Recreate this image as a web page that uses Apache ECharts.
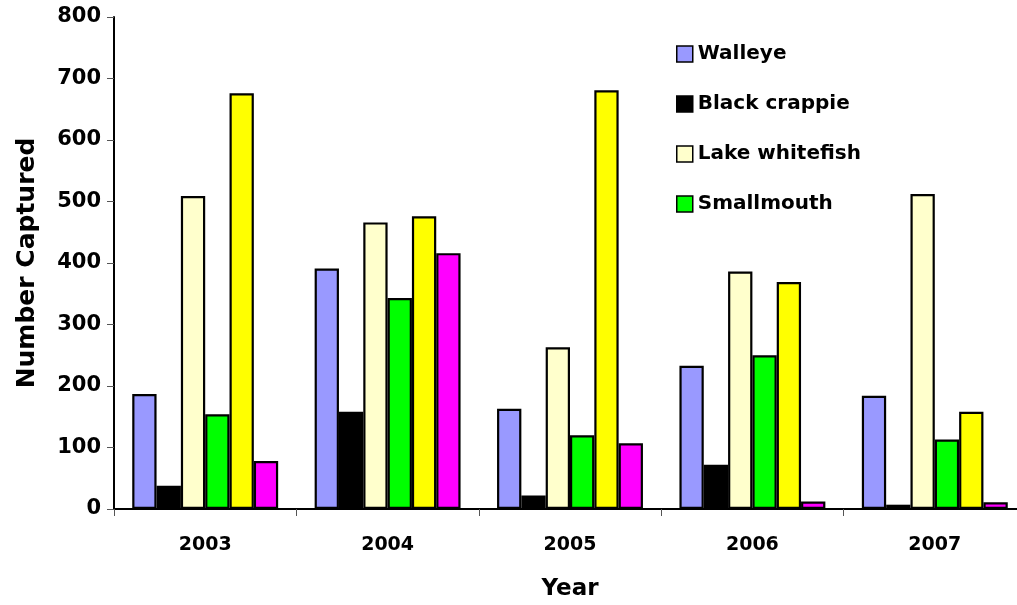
<!DOCTYPE html>
<html>
<head>
<meta charset="utf-8">
<script src="https://cdn.jsdelivr.net/npm/echarts@6/dist/echarts.min.js"></script>
<style>
  html, body { margin: 0; padding: 0; background: #fff; }
  #chart { width: 1017px; height: 605px; }
</style>
</head>
<body>
<div id="chart"></div>
<script>
// data
const years = ["2003", "2004", "2005", "2006", "2007"];
const walleye = [187, 391, 163, 233, 184];
const blackCrappie = [38, 158, 22, 72, 7];
const lakeWhitefish = [509, 466, 263, 386, 512];
const smallmouthBass = [154, 343, 120, 250, 113];
const yellowSeries = [676, 476, 681, 369, 158];
const magentaSeries = [78, 416, 107, 12, 11];
const yTicks = [0, 100, 200, 300, 400, 500, 600, 700, 800];

const font = "'DejaVu Sans', sans-serif";
const chart = echarts.init(document.getElementById("chart"));

function bar(name, data, color) {
  return {
    name: name,
    type: "bar",
    data: data,
    barGap: "0%",
    barCategoryGap: "20%",
    itemStyle: { color: color, borderColor: "#000", borderWidth: 2.2 },
    emphasis: { disabled: true },
    animation: false
  };
}

const option = {
  backgroundColor: "#fff",
  grid: { left: 114, top: 17, right: -9, bottom: 96, containLabel: false, outerBoundsMode: "none" },
  legend: {
    data: ["Walleye", "Black crappie", "Lake whitefish", "Smallmouth bass"],
    orient: "vertical",
    left: 671,
    top: 39,
    itemWidth: 16,
    itemHeight: 16,
    itemGap: 30,
    icon: "rect",
    itemStyle: { borderColor: "#000", borderWidth: 1.5 },
    formatter: function (name) { return name === "Smallmouth bass" ? "Smallmouth" : name; },
    textStyle: { fontFamily: font, fontWeight: "bold", fontSize: 20, color: "#000", lineHeight: 16 }
  },
  xAxis: {
    type: "category",
    data: years,
    name: "Year",
    nameLocation: "middle",
    nameGap: 69,
    nameTextStyle: { fontFamily: font, fontWeight: "bold", fontSize: 23, color: "#000" },
    axisLine: { lineStyle: { color: "#000", width: 2 } },
    axisTick: { show: true, length: 7, lineStyle: { color: "#555", width: 1 } },
    axisLabel: { fontFamily: font, fontWeight: "bold", fontSize: 19, color: "#000", margin: 27 }
  },
  yAxis: {
    type: "value",
    min: 0,
    max: 800,
    interval: 100,
    name: "Number Captured",
    nameLocation: "middle",
    nameGap: 74,
    nameTextStyle: { fontFamily: font, fontWeight: "bold", fontSize: 25, color: "#000" },
    axisLine: { show: true, lineStyle: { color: "#000", width: 2 } },
    axisTick: { show: true, length: 7, lineStyle: { color: "#555", width: 1 } },
    splitLine: { show: false },
    axisLabel: {
      fontFamily: font, fontWeight: "bold", fontSize: 21, color: "#000", margin: 13,
      formatter: function (v) { return yTicks.indexOf(v) >= 0 ? String(v) : ""; }
    }
  },
  series: [
    bar("Walleye", walleye, "#9999ff"),
    bar("Black crappie", blackCrappie, "#000000"),
    bar("Lake whitefish", lakeWhitefish, "#ffffcc"),
    bar("Smallmouth bass", smallmouthBass, "#00ff00"),
    bar("Series 5", yellowSeries, "#ffff00"),
    bar("Series 6", magentaSeries, "#ff00ff")
  ]
};

chart.setOption(option);
</script>
</body>
</html>
